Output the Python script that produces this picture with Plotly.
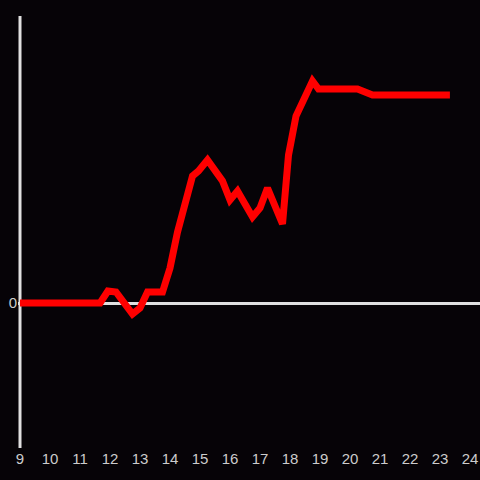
import plotly.graph_objects as go

# hours of the day and the value
hours = [9.0, 11.67, 11.93, 12.2, 12.75, 13.0, 13.25, 13.75, 14.0, 14.25,
         14.75, 14.95, 15.25, 15.75, 16.0, 16.25, 16.75, 17.0, 17.25, 17.75,
         17.95, 18.2, 18.75, 18.95, 20.25, 20.75, 23.33]
values = [0, 0, 1.2, 1.1, -1.1, -0.5, 1.1, 1.1, 3.5, 7.1,
          12.7, 13.2, 14.3, 12.2, 10.3, 11.2, 8.6, 9.5, 11.5, 7.9,
          14.8, 18.7, 22.2, 21.4, 21.4, 20.8, 20.8]
x_ticks = list(range(9, 25))

bg = '#060307'
axis_col = '#e0e0e0'
text_col = '#cccccc'

fig = go.Figure(go.Scatter(
    x=hours, y=values, mode='lines',
    line={'color': '#ff0000', 'width': 7},
    hoverinfo='skip'
))

# vertical axis line sitting exactly at the first hour
fig.add_shape(type='line', xref='x', yref='paper', x0=x_ticks[0], x1=x_ticks[0],
              y0=0, y1=1, line={'color': axis_col, 'width': 3}, layer='below')

fig.update_layout(
    width=480, height=480,
    margin=dict(l=18, r=0, t=16, b=32),
    paper_bgcolor=bg, plot_bgcolor=bg,
    showlegend=False,
    font={'family': 'Liberation Sans, Arial, sans-serif', 'size': 15, 'color': text_col},
    xaxis=dict(
        range=[8.9333, 24.333], tickvals=x_ticks, showgrid=False, zeroline=False,
        showline=False, ticks='', automargin=False,
        tickfont={'size': 15, 'color': text_col}
    ),
    yaxis=dict(
        range=[-14.5, 28.7], tickvals=[0], showgrid=False,
        zeroline=True, zerolinecolor=axis_col, zerolinewidth=3,
        showline=False, ticks='', automargin=False,
        tickfont={'size': 15, 'color': text_col}
    ),
)

fig.write_html(
    "out.html",
    config={'displayModeBar': False},
    post_script="document.body.style.margin='0';document.body.style.background='%s';" % bg
)
